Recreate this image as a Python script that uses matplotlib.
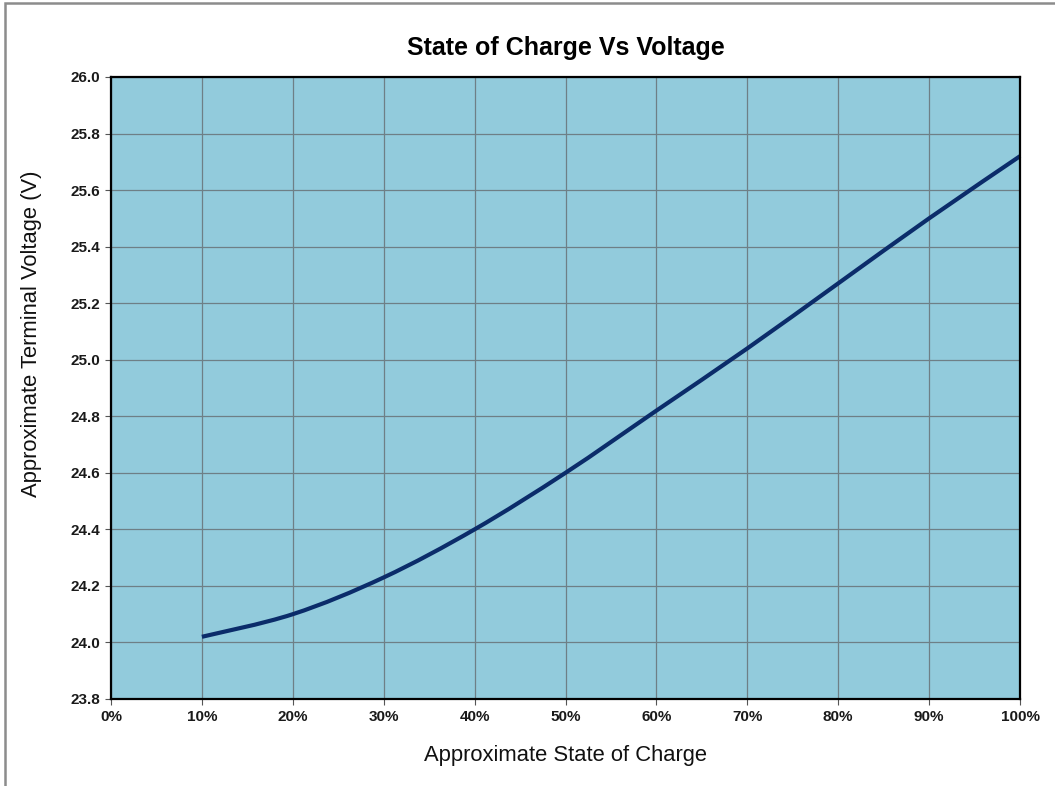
import matplotlib
matplotlib.use("Agg")
import matplotlib.pyplot as plt
from matplotlib.patches import Rectangle, PathPatch
from matplotlib.path import Path
from matplotlib.ticker import FuncFormatter
from matplotlib import font_manager

soc = [0.10, 0.20, 0.30, 0.40, 0.50, 0.60, 0.70, 0.80, 0.90, 1.00]
voltage = [24.02, 24.10, 24.23, 24.40, 24.60, 24.82, 25.04, 25.27, 25.50, 25.72]
x_ticks = [0.0, 0.1, 0.2, 0.3, 0.4, 0.5, 0.6, 0.7, 0.8, 0.9, 1.0]
y_ticks = [23.8, 24.0, 24.2, 24.4, 24.6, 24.8, 25.0, 25.2, 25.4, 25.6, 25.8, 26.0]

names = {f.name for f in font_manager.fontManager.ttflist}
narrow = "Liberation Sans Narrow" if "Liberation Sans Narrow" in names else "Liberation Sans"
main_font = "Liberation Sans"

fig = plt.figure(figsize=(10.55, 7.86), dpi=100)
fig.patch.set_facecolor("white")
fig.patches.append(Rectangle((5 / 1055, -0.05), 1.2, 1 - 3 / 786 + 0.05, transform=fig.transFigure,
                             fill=False, edgecolor="#8c8c8c", linewidth=1.8, zorder=0))

ax = fig.add_axes([111 / 1055, 1 - 699 / 786, (1020 - 111) / 1055, (699 - 77) / 786])
ax.set_facecolor("#92CBDC")

# Smoothed line through the data points (Excel-style smoothing, Catmull-Rom as Bezier)
verts = [(soc[0], voltage[0])]
codes = [Path.MOVETO]
n = len(soc)
for i in range(n - 1):
    p0 = (soc[max(i - 1, 0)], voltage[max(i - 1, 0)])
    p1 = (soc[i], voltage[i])
    p2 = (soc[i + 1], voltage[i + 1])
    p3 = (soc[min(i + 2, n - 1)], voltage[min(i + 2, n - 1)])
    c1 = (p1[0] + (p2[0] - p0[0]) / 6, p1[1] + (p2[1] - p0[1]) / 6)
    c2 = (p2[0] - (p3[0] - p1[0]) / 6, p2[1] - (p3[1] - p1[1]) / 6)
    verts += [c1, c2, p2]
    codes += [Path.CURVE4, Path.CURVE4, Path.CURVE4]
ax.add_patch(PathPatch(Path(verts, codes), fill=False, edgecolor="#0B2C6A",
                       linewidth=3.0, capstyle="butt", zorder=3, clip_on=False))

ax.set_xlim(0, 1.0)
ax.set_ylim(23.8, 26.0)
ax.set_xticks(x_ticks)
ax.set_yticks(y_ticks)
ax.xaxis.set_major_formatter(FuncFormatter(lambda v, p: f"{v*100:.0f}%"))
ax.yaxis.set_major_formatter(FuncFormatter(lambda v, p: f"{v:.1f}"))
ax.grid(True, color="#6e7f86", linewidth=0.9, zorder=1)
ax.set_axisbelow(True)
for s in ax.spines.values():
    s.set_color("black")
    s.set_linewidth(1.6)
    s.set_zorder(4)
ax.tick_params(axis="both", direction="out", length=4, width=0.8, color="#555555", pad=4)
for lab in ax.get_xticklabels() + ax.get_yticklabels():
    lab.set_fontfamily(narrow)
    lab.set_fontweight("bold")
    lab.set_fontsize(11)
    lab.set_color("#1a1a1a")

fig.text(0.5 * (111 + 1020) / 1055, 1 - 48 / 786, "State of Charge Vs Voltage",
         fontfamily=main_font, fontweight="bold", fontsize=18, ha="center", va="center")
fig.text(566 / 1055, 1 - 755 / 786, "Approximate State of Charge",
         fontfamily=main_font, fontsize=15.8, ha="center", va="center", color="#111111")
fig.text(32 / 1055, 1 - 334 / 786, "Approximate Terminal Voltage (V)", rotation=90,
         fontfamily=main_font, fontsize=15.8, ha="center", va="center", color="#111111")

fig.savefig("out.png", dpi=100)
